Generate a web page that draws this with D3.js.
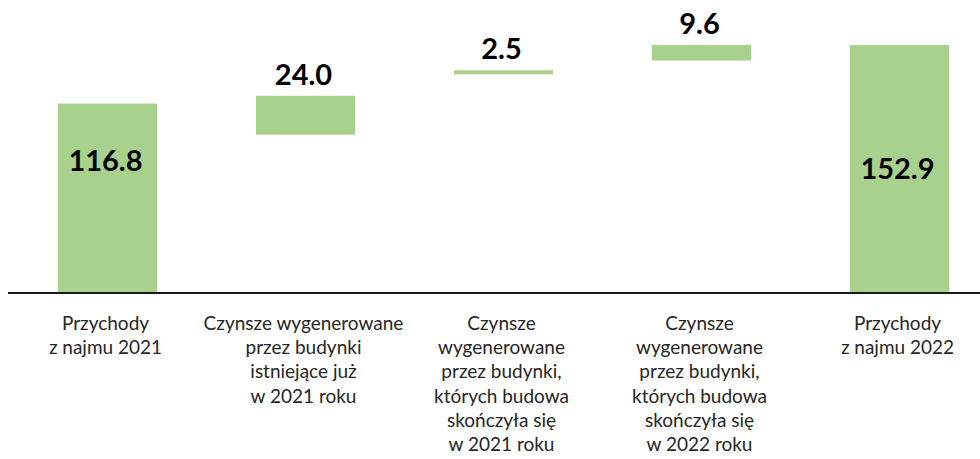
<html>
<head>
<meta charset="utf-8">
<script src="https://cdn.jsdelivr.net/npm/d3@7"></script>
<style>
  body{margin:0; background:#fff;}
  svg{display:block;}
</style>
</head>
<body>
<div id="chart"></div>
<script>
// waterfall data: where each bar starts and how tall it is
var categories = [
  ["Przychody", "z najmu 2021"],
  ["Czynsze wygenerowane", "przez budynki", "istniejące już", "w 2021 roku"],
  ["Czynsze", "wygenerowane", "przez budynki,", "których budowa", "skończyła się", "w 2021 roku"],
  ["Czynsze", "wygenerowane", "przez budynki,", "których budowa", "skończyła się", "w 2022 roku"],
  ["Przychody", "z najmu 2022"]
];
var values = [116.8, 24.0, 2.5, 9.6, 152.9];
var starts = [0, 97.6, 134.8, 143.3, 0];
var isTotal = [true, false, false, false, true];

var W = 980, H = 459;
var svg = d3.select("#chart").append("svg")
  .attr("width", W)
  .attr("height", H);

var x = d3.scaleBand()
  .domain(d3.range(values.length))
  .range([8.5, 998.5])
  .paddingInner(0.5)
  .paddingOuter(0.25);

var y = d3.scaleLinear()
  .domain([0, 152.9])
  .range([293, 45]);

var data = values.map(function(v, i){
  return {i: i, v: v, s: starts[i], total: isTotal[i], cat: categories[i]};
});

svg.selectAll(".bar")
  .data(data)
  .enter()
  .append("rect")
    .attr("class", "bar")
    .attr("x", function(d){ return x(d.i) })
    .attr("width", x.bandwidth())
    .attr("y", function(d){ return y(d.s + d.v) })
    .attr("height", function(d){ return y(d.s) - y(d.s + d.v) })
    .attr("fill", "#A9D18E");

// baseline
svg.append("line")
  .attr("x1", 8).attr("x2", W)
  .attr("y1", y(0)).attr("y2", y(0))
  .attr("stroke", "#1a1a1a")
  .attr("stroke-width", 2);

// value labels: totals sit inside the bar, the steps above it
var insideAt = {0: 81.5, 4: 76.5};
svg.selectAll(".val")
  .data(data)
  .enter()
  .append("text")
    .attr("class", "val")
    .attr("x", function(d){ return x(d.i) + x.bandwidth()/2 - 2 })
    .attr("y", function(d){
      if(d.total){ return y(insideAt[d.i]) }
      return y(d.s + d.v) - 11;
    })
    .attr("dy", function(d){ return d.total ? "0.36em" : null })
    .attr("text-anchor", "middle")
    .attr("font-family", "Lato, 'Open Sans', sans-serif")
    .attr("font-weight", "bold")
    .attr("font-size", 29)
    .attr("fill", "#000")
    .text(function(d){ return d3.format(".1f")(d.v) });

// category labels, several lines each
var cats = svg.selectAll(".cat")
  .data(data)
  .enter()
  .append("text")
    .attr("class", "cat")
    .attr("text-anchor", "middle")
    .attr("font-family", "Lato, 'Open Sans', sans-serif")
    .attr("font-size", 19)
    .attr("fill", "#262626");

cats.selectAll("tspan")
  .data(function(d){ return d.cat.map(function(t){ return {t: t, i: d.i} }) })
  .enter()
  .append("tspan")
    .attr("x", function(d){ return x(d.i) + x.bandwidth()/2 - 2 })
    .attr("y", function(d, j){ return 330 + j*24.2 })
    .text(function(d){ return d.t });
</script>
</body>
</html>
